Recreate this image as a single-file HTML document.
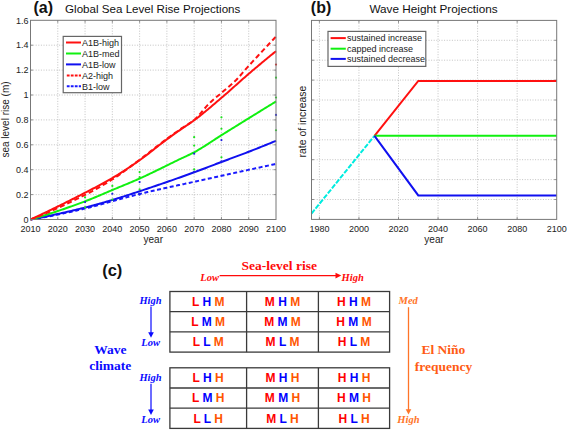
<!DOCTYPE html><html><head><meta charset="utf-8"><style>html,body{margin:0;padding:0;background:#fff;width:567px;height:430px;overflow:hidden}svg{display:block}</style></head><body>
<svg width="567" height="430" viewBox="0 0 567 430">
<rect width="567" height="430" fill="#fff"/>
<g stroke="#b4b4b4" stroke-width="0.8" stroke-dasharray="1,1.6"><line x1="57.78" y1="20.30" x2="57.78" y2="219.50"/><line x1="85.06" y1="20.30" x2="85.06" y2="219.50"/><line x1="112.33" y1="20.30" x2="112.33" y2="219.50"/><line x1="139.61" y1="20.30" x2="139.61" y2="219.50"/><line x1="166.89" y1="20.30" x2="166.89" y2="219.50"/><line x1="194.17" y1="20.30" x2="194.17" y2="219.50"/><line x1="221.44" y1="20.30" x2="221.44" y2="219.50"/><line x1="248.72" y1="20.30" x2="248.72" y2="219.50"/><line x1="30.50" y1="194.60" x2="276.00" y2="194.60"/><line x1="30.50" y1="169.70" x2="276.00" y2="169.70"/><line x1="30.50" y1="144.80" x2="276.00" y2="144.80"/><line x1="30.50" y1="119.90" x2="276.00" y2="119.90"/><line x1="30.50" y1="95.00" x2="276.00" y2="95.00"/><line x1="30.50" y1="70.10" x2="276.00" y2="70.10"/><line x1="30.50" y1="45.20" x2="276.00" y2="45.20"/></g>
<g stroke="#777" stroke-width="0.8"><line x1="57.78" y1="219.50" x2="57.78" y2="217.00"/><line x1="57.78" y1="20.30" x2="57.78" y2="22.80"/><line x1="85.06" y1="219.50" x2="85.06" y2="217.00"/><line x1="85.06" y1="20.30" x2="85.06" y2="22.80"/><line x1="112.33" y1="219.50" x2="112.33" y2="217.00"/><line x1="112.33" y1="20.30" x2="112.33" y2="22.80"/><line x1="139.61" y1="219.50" x2="139.61" y2="217.00"/><line x1="139.61" y1="20.30" x2="139.61" y2="22.80"/><line x1="166.89" y1="219.50" x2="166.89" y2="217.00"/><line x1="166.89" y1="20.30" x2="166.89" y2="22.80"/><line x1="194.17" y1="219.50" x2="194.17" y2="217.00"/><line x1="194.17" y1="20.30" x2="194.17" y2="22.80"/><line x1="221.44" y1="219.50" x2="221.44" y2="217.00"/><line x1="221.44" y1="20.30" x2="221.44" y2="22.80"/><line x1="248.72" y1="219.50" x2="248.72" y2="217.00"/><line x1="248.72" y1="20.30" x2="248.72" y2="22.80"/><line x1="30.50" y1="194.60" x2="33.00" y2="194.60"/><line x1="276.00" y1="194.60" x2="273.50" y2="194.60"/><line x1="30.50" y1="169.70" x2="33.00" y2="169.70"/><line x1="276.00" y1="169.70" x2="273.50" y2="169.70"/><line x1="30.50" y1="144.80" x2="33.00" y2="144.80"/><line x1="276.00" y1="144.80" x2="273.50" y2="144.80"/><line x1="30.50" y1="119.90" x2="33.00" y2="119.90"/><line x1="276.00" y1="119.90" x2="273.50" y2="119.90"/><line x1="30.50" y1="95.00" x2="33.00" y2="95.00"/><line x1="276.00" y1="95.00" x2="273.50" y2="95.00"/><line x1="30.50" y1="70.10" x2="33.00" y2="70.10"/><line x1="276.00" y1="70.10" x2="273.50" y2="70.10"/><line x1="30.50" y1="45.20" x2="33.00" y2="45.20"/><line x1="276.00" y1="45.20" x2="273.50" y2="45.20"/></g>
<g fill="none" stroke-width="2" stroke-linejoin="round">
<polyline points="30.50,219.50 31.86,219.29 33.23,219.07 34.59,218.85 35.96,218.62 37.32,218.39 38.68,218.16 40.05,217.92 41.41,217.69 42.77,217.44 44.14,217.20 45.50,216.95 46.87,216.69 48.23,216.44 49.59,216.18 50.96,215.91 52.32,215.65 53.69,215.38 55.05,215.11 56.41,214.84 57.78,214.56 59.14,214.28 60.51,214.00 61.87,213.71 63.23,213.42 64.60,213.14 65.96,212.84 67.32,212.55 68.69,212.25 70.05,211.95 71.42,211.65 72.78,211.35 74.14,211.05 75.51,210.74 76.87,210.43 78.24,210.12 79.60,209.81 80.96,209.49 82.33,209.18 83.69,208.86 85.06,208.54 86.42,208.22 87.78,207.89 89.15,207.55 90.51,207.20 91.88,206.84 93.24,206.48 94.60,206.11 95.97,205.74 97.33,205.36 98.69,204.98 100.06,204.60 101.42,204.22 102.79,203.84 104.15,203.45 105.51,203.07 106.88,202.69 108.24,202.31 109.61,201.94 110.97,201.57 112.33,201.20 113.70,200.83 115.06,200.47 116.42,200.10 117.79,199.73 119.15,199.36 120.52,198.99 121.88,198.62 123.24,198.25 124.61,197.88 125.97,197.51 127.34,197.15 128.70,196.78 130.06,196.42 131.43,196.06 132.79,195.70 134.16,195.35 135.52,195.00 136.88,194.65 138.25,194.31 139.61,193.98 140.98,193.65 142.34,193.32 143.70,192.99 145.07,192.66 146.43,192.34 147.79,192.02 149.16,191.70 150.52,191.39 151.89,191.07 153.25,190.76 154.61,190.45 155.98,190.14 157.34,189.83 158.71,189.53 160.07,189.22 161.43,188.92 162.80,188.62 164.16,188.31 165.53,188.01 166.89,187.72 168.25,187.42 169.62,187.12 170.98,186.82 172.34,186.53 173.71,186.23 175.07,185.93 176.44,185.64 177.80,185.34 179.16,185.05 180.53,184.75 181.89,184.46 183.26,184.16 184.62,183.87 185.98,183.57 187.35,183.27 188.71,182.97 190.08,182.68 191.44,182.38 192.80,182.08 194.17,181.78 195.53,181.48 196.89,181.17 198.26,180.87 199.62,180.57 200.99,180.27 202.35,179.98 203.71,179.68 205.08,179.38 206.44,179.08 207.81,178.78 209.17,178.48 210.53,178.19 211.90,177.89 213.26,177.59 214.62,177.29 215.99,176.99 217.35,176.70 218.72,176.40 220.08,176.10 221.44,175.80 222.81,175.50 224.17,175.20 225.54,174.90 226.90,174.61 228.26,174.31 229.63,174.01 230.99,173.71 232.36,173.41 233.72,173.11 235.08,172.81 236.45,172.51 237.81,172.21 239.17,171.92 240.54,171.62 241.90,171.32 243.27,171.02 244.63,170.72 245.99,170.42 247.36,170.12 248.72,169.82 250.09,169.53 251.45,169.23 252.81,168.93 254.18,168.63 255.54,168.33 256.91,168.03 258.27,167.73 259.63,167.43 261.00,167.14 262.36,166.84 263.73,166.54 265.09,166.24 266.45,165.94 267.82,165.64 269.18,165.34 270.54,165.04 271.91,164.74 273.27,164.45 274.64,164.15 276.00,163.85" stroke="#1a1aff" stroke-dasharray="4,2.5"/>
<polyline points="30.50,219.50 31.86,219.25 33.23,219.00 34.59,218.75 35.96,218.49 37.32,218.23 38.68,217.97 40.05,217.71 41.41,217.44 42.77,217.17 44.14,216.89 45.50,216.61 46.87,216.33 48.23,216.05 49.59,215.76 50.96,215.48 52.32,215.18 53.69,214.89 55.05,214.59 56.41,214.30 57.78,213.99 59.14,213.69 60.51,213.39 61.87,213.08 63.23,212.77 64.60,212.45 65.96,212.14 67.32,211.82 68.69,211.51 70.05,211.19 71.42,210.86 72.78,210.54 74.14,210.21 75.51,209.89 76.87,209.56 78.24,209.23 79.60,208.89 80.96,208.56 82.33,208.22 83.69,207.89 85.06,207.55 86.42,207.21 87.78,206.86 89.15,206.51 90.51,206.15 91.88,205.79 93.24,205.42 94.60,205.05 95.97,204.68 97.33,204.30 98.69,203.92 100.06,203.53 101.42,203.14 102.79,202.75 104.15,202.36 105.51,201.96 106.88,201.57 108.24,201.16 109.61,200.76 110.97,200.36 112.33,199.95 113.70,199.55 115.06,199.13 116.42,198.72 117.79,198.30 119.15,197.87 120.52,197.45 121.88,197.02 123.24,196.58 124.61,196.15 125.97,195.71 127.34,195.27 128.70,194.83 130.06,194.38 131.43,193.94 132.79,193.49 134.16,193.04 135.52,192.59 136.88,192.14 138.25,191.69 139.61,191.24 140.98,190.79 142.34,190.33 143.70,189.88 145.07,189.42 146.43,188.97 147.79,188.51 149.16,188.05 150.52,187.59 151.89,187.13 153.25,186.67 154.61,186.21 155.98,185.75 157.34,185.28 158.71,184.82 160.07,184.35 161.43,183.88 162.80,183.41 164.16,182.94 165.53,182.47 166.89,182.00 168.25,181.53 169.62,181.05 170.98,180.58 172.34,180.10 173.71,179.62 175.07,179.14 176.44,178.66 177.80,178.18 179.16,177.70 180.53,177.22 181.89,176.73 183.26,176.25 184.62,175.76 185.98,175.27 187.35,174.78 188.71,174.29 190.08,173.80 191.44,173.30 192.80,172.81 194.17,172.31 195.53,171.82 196.89,171.31 198.26,170.81 199.62,170.30 200.99,169.79 202.35,169.27 203.71,168.75 205.08,168.23 206.44,167.71 207.81,167.19 209.17,166.67 210.53,166.14 211.90,165.62 213.26,165.10 214.62,164.57 215.99,164.05 217.35,163.53 218.72,163.01 220.08,162.50 221.44,161.98 222.81,161.47 224.17,160.96 225.54,160.45 226.90,159.94 228.26,159.44 229.63,158.93 230.99,158.43 232.36,157.92 233.72,157.42 235.08,156.91 236.45,156.41 237.81,155.90 239.17,155.39 240.54,154.88 241.90,154.37 243.27,153.86 244.63,153.34 245.99,152.82 247.36,152.30 248.72,151.77 250.09,151.24 251.45,150.71 252.81,150.18 254.18,149.64 255.54,149.10 256.91,148.57 258.27,148.02 259.63,147.48 261.00,146.94 262.36,146.39 263.73,145.84 265.09,145.29 266.45,144.74 267.82,144.18 269.18,143.63 270.54,143.07 271.91,142.51 273.27,141.95 274.64,141.38 276.00,140.82" stroke="#1010f0"/>
<polyline points="30.50,219.50 31.86,219.12 33.23,218.73 34.59,218.34 35.96,217.94 37.32,217.54 38.68,217.14 40.05,216.73 41.41,216.32 42.77,215.90 44.14,215.48 45.50,215.06 46.87,214.63 48.23,214.19 49.59,213.76 50.96,213.32 52.32,212.87 53.69,212.43 55.05,211.98 56.41,211.52 57.78,211.07 59.14,210.60 60.51,210.14 61.87,209.67 63.23,209.20 64.60,208.73 65.96,208.25 67.32,207.78 68.69,207.29 70.05,206.81 71.42,206.32 72.78,205.83 74.14,205.34 75.51,204.85 76.87,204.35 78.24,203.85 79.60,203.35 80.96,202.85 82.33,202.34 83.69,201.83 85.06,201.32 86.42,200.81 87.78,200.28 89.15,199.75 90.51,199.20 91.88,198.65 93.24,198.09 94.60,197.53 95.97,196.96 97.33,196.38 98.69,195.81 100.06,195.22 101.42,194.64 102.79,194.06 104.15,193.47 105.51,192.89 106.88,192.30 108.24,191.72 109.61,191.14 110.97,190.57 112.33,189.99 113.70,189.43 115.06,188.86 116.42,188.30 117.79,187.73 119.15,187.17 120.52,186.61 121.88,186.05 123.24,185.49 124.61,184.93 125.97,184.37 127.34,183.80 128.70,183.23 130.06,182.66 131.43,182.09 132.79,181.51 134.16,180.93 135.52,180.34 136.88,179.75 138.25,179.15 139.61,178.54 140.98,177.93 142.34,177.31 143.70,176.68 145.07,176.05 146.43,175.41 147.79,174.77 149.16,174.12 150.52,173.47 151.89,172.82 153.25,172.16 154.61,171.50 155.98,170.84 157.34,170.17 158.71,169.50 160.07,168.83 161.43,168.16 162.80,167.49 164.16,166.81 165.53,166.14 166.89,165.46 168.25,164.79 169.62,164.12 170.98,163.45 172.34,162.78 173.71,162.11 175.07,161.45 176.44,160.79 177.80,160.13 179.16,159.47 180.53,158.83 181.89,158.20 183.26,157.57 184.62,156.94 185.98,156.30 187.35,155.67 188.71,155.02 190.08,154.36 191.44,153.69 192.80,152.99 194.17,152.27 195.53,151.53 196.89,150.76 198.26,149.97 199.62,149.17 200.99,148.34 202.35,147.50 203.71,146.65 205.08,145.79 206.44,144.92 207.81,144.04 209.17,143.15 210.53,142.26 211.90,141.37 213.26,140.47 214.62,139.58 215.99,138.69 217.35,137.81 218.72,136.94 220.08,136.07 221.44,135.21 222.81,134.36 224.17,133.51 225.54,132.67 226.90,131.82 228.26,130.97 229.63,130.12 230.99,129.27 232.36,128.43 233.72,127.58 235.08,126.73 236.45,125.89 237.81,125.04 239.17,124.19 240.54,123.35 241.90,122.50 243.27,121.66 244.63,120.81 245.99,119.97 247.36,119.13 248.72,118.28 250.09,117.44 251.45,116.60 252.81,115.75 254.18,114.91 255.54,114.07 256.91,113.23 258.27,112.38 259.63,111.54 261.00,110.70 262.36,109.86 263.73,109.02 265.09,108.18 266.45,107.34 267.82,106.50 269.18,105.66 270.54,104.83 271.91,103.99 273.27,103.15 274.64,102.31 276.00,101.47" stroke="#10f010"/>
<polyline points="30.50,219.50 31.86,218.98 33.23,218.46 34.59,217.93 35.96,217.40 37.32,216.86 38.68,216.31 40.05,215.76 41.41,215.20 42.77,214.64 44.14,214.07 45.50,213.49 46.87,212.91 48.23,212.32 49.59,211.73 50.96,211.14 52.32,210.54 53.69,209.93 55.05,209.32 56.41,208.70 57.78,208.08 59.14,207.46 60.51,206.83 61.87,206.19 63.23,205.56 64.60,204.91 65.96,204.27 67.32,203.62 68.69,202.96 70.05,202.31 71.42,201.64 72.78,200.98 74.14,200.31 75.51,199.64 76.87,198.96 78.24,198.28 79.60,197.60 80.96,196.92 82.33,196.23 83.69,195.54 85.06,194.85 86.42,194.15 87.78,193.45 89.15,192.74 90.51,192.02 91.88,191.30 93.24,190.56 94.60,189.82 95.97,189.08 97.33,188.32 98.69,187.56 100.06,186.78 101.42,186.00 102.79,185.21 104.15,184.41 105.51,183.61 106.88,182.79 108.24,181.96 109.61,181.12 110.97,180.27 112.33,179.41 113.70,178.54 115.06,177.64 116.42,176.73 117.79,175.80 119.15,174.86 120.52,173.90 121.88,172.92 123.24,171.94 124.61,170.95 125.97,169.95 127.34,168.94 128.70,167.92 130.06,166.90 131.43,165.88 132.79,164.85 134.16,163.83 135.52,162.80 136.88,161.78 138.25,160.76 139.61,159.74 140.98,158.72 142.34,157.69 143.70,156.66 145.07,155.61 146.43,154.56 147.79,153.51 149.16,152.45 150.52,151.38 151.89,150.32 153.25,149.26 154.61,148.19 155.98,147.13 157.34,146.07 158.71,145.01 160.07,143.96 161.43,142.92 162.80,141.88 164.16,140.85 165.53,139.83 166.89,138.82 168.25,137.82 169.62,136.83 170.98,135.85 172.34,134.87 173.71,133.90 175.07,132.93 176.44,131.97 177.80,131.01 179.16,130.06 180.53,129.11 181.89,128.19 183.26,127.31 184.62,126.44 185.98,125.59 187.35,124.74 188.71,123.86 190.08,122.95 191.44,122.00 192.80,120.99 194.17,119.90 195.53,118.70 196.89,117.37 198.26,115.93 199.62,114.42 200.99,112.84 202.35,111.23 203.71,109.62 205.08,108.01 206.44,106.45 207.81,104.94 209.17,103.52 210.53,102.20 211.90,100.96 213.26,99.75 214.62,98.59 215.99,97.44 217.35,96.31 218.72,95.19 220.08,94.05 221.44,92.88 222.81,91.72 224.17,90.57 225.54,89.44 226.90,88.30 228.26,87.16 229.63,86.00 230.99,84.82 232.36,83.61 233.72,82.36 235.08,81.06 236.45,79.69 237.81,78.25 239.17,76.76 240.54,75.23 241.90,73.67 243.27,72.09 244.63,70.51 245.99,68.93 247.36,67.38 248.72,65.87 250.09,64.37 251.45,62.88 252.81,61.40 254.18,59.91 255.54,58.43 256.91,56.95 258.27,55.48 259.63,54.00 261.00,52.53 262.36,51.07 263.73,49.61 265.09,48.15 266.45,46.69 267.82,45.24 269.18,43.79 270.54,42.35 271.91,40.91 273.27,39.47 274.64,38.04 276.00,36.61" stroke="#ff1010" stroke-dasharray="5,3"/>
<polyline points="30.50,219.50 31.86,218.87 33.23,218.24 34.59,217.61 35.96,216.98 37.32,216.34 38.68,215.70 40.05,215.06 41.41,214.41 42.77,213.77 44.14,213.12 45.50,212.47 46.87,211.81 48.23,211.16 49.59,210.50 50.96,209.84 52.32,209.18 53.69,208.51 55.05,207.85 56.41,207.18 57.78,206.51 59.14,205.84 60.51,205.16 61.87,204.49 63.23,203.81 64.60,203.13 65.96,202.45 67.32,201.76 68.69,201.08 70.05,200.39 71.42,199.70 72.78,199.01 74.14,198.32 75.51,197.63 76.87,196.93 78.24,196.24 79.60,195.54 80.96,194.84 82.33,194.14 83.69,193.44 85.06,192.73 86.42,192.03 87.78,191.33 89.15,190.62 90.51,189.92 91.88,189.21 93.24,188.50 94.60,187.79 95.97,187.08 97.33,186.36 98.69,185.64 100.06,184.91 101.42,184.18 102.79,183.44 104.15,182.69 105.51,181.94 106.88,181.18 108.24,180.41 109.61,179.63 110.97,178.84 112.33,178.04 113.70,177.23 115.06,176.41 116.42,175.58 117.79,174.74 119.15,173.90 120.52,173.04 121.88,172.18 123.24,171.30 124.61,170.42 125.97,169.53 127.34,168.63 128.70,167.73 130.06,166.82 131.43,165.90 132.79,164.97 134.16,164.04 135.52,163.10 136.88,162.15 138.25,161.20 139.61,160.24 140.98,159.27 142.34,158.27 143.70,157.27 145.07,156.24 146.43,155.21 147.79,154.16 149.16,153.10 150.52,152.03 151.89,150.96 153.25,149.88 154.61,148.80 155.98,147.73 157.34,146.65 158.71,145.58 160.07,144.51 161.43,143.45 162.80,142.40 164.16,141.36 165.53,140.33 166.89,139.32 168.25,138.32 169.62,137.33 170.98,136.35 172.34,135.37 173.71,134.40 175.07,133.44 176.44,132.48 177.80,131.52 179.16,130.56 180.53,129.61 181.89,128.67 183.26,127.74 184.62,126.83 185.98,125.92 187.35,125.01 188.71,124.10 190.08,123.17 191.44,122.23 192.80,121.27 194.17,120.27 195.53,119.26 196.89,118.22 198.26,117.17 199.62,116.10 200.99,115.02 202.35,113.93 203.71,112.82 205.08,111.71 206.44,110.58 207.81,109.45 209.17,108.30 210.53,107.16 211.90,106.00 213.26,104.84 214.62,103.68 215.99,102.52 217.35,101.35 218.72,100.19 220.08,99.02 221.44,97.86 222.81,96.70 224.17,95.52 225.54,94.34 226.90,93.14 228.26,91.94 229.63,90.73 230.99,89.52 232.36,88.31 233.72,87.09 235.08,85.87 236.45,84.65 237.81,83.43 239.17,82.21 240.54,80.99 241.90,79.78 243.27,78.58 244.63,77.38 245.99,76.19 247.36,75.01 248.72,73.84 250.09,72.67 251.45,71.51 252.81,70.35 254.18,69.20 255.54,68.04 256.91,66.90 258.27,65.75 259.63,64.61 261.00,63.47 262.36,62.34 263.73,61.21 265.09,60.08 266.45,58.95 267.82,57.83 269.18,56.71 270.54,55.60 271.91,54.49 273.27,53.38 274.64,52.28 276.00,51.18" stroke="#ff1010"/>
</g>
<circle cx="85.06" cy="197.46" r="1.1" fill="#20e020"/><circle cx="85.06" cy="202.07" r="1.1" fill="#2020e0"/><circle cx="85.06" cy="207.42" r="1.1" fill="#20e020"/><circle cx="112.33" cy="185.88" r="1.1" fill="#20e020"/><circle cx="112.33" cy="189.87" r="1.1" fill="#20e020"/><circle cx="112.33" cy="193.73" r="1.1" fill="#2020e0"/><circle cx="112.33" cy="199.58" r="1.1" fill="#20e020"/><circle cx="139.61" cy="172.07" r="1.1" fill="#20e020"/><circle cx="139.61" cy="177.17" r="1.1" fill="#20e020"/><circle cx="139.61" cy="182.03" r="1.1" fill="#2020e0"/><circle cx="139.61" cy="189.37" r="1.1" fill="#20e020"/><circle cx="139.61" cy="194.60" r="1.1" fill="#2020e0"/><circle cx="194.17" cy="137.21" r="1.1" fill="#20e020"/><circle cx="194.17" cy="145.55" r="1.1" fill="#20e020"/><circle cx="194.17" cy="153.64" r="1.1" fill="#2020e0"/><circle cx="194.17" cy="169.45" r="1.1" fill="#20e020"/><circle cx="194.17" cy="171.94" r="1.1" fill="#2020e0"/><circle cx="221.44" cy="117.29" r="1.1" fill="#20e020"/><circle cx="221.44" cy="128.74" r="1.1" fill="#20e020"/><circle cx="221.44" cy="140.07" r="1.1" fill="#2020e0"/><circle cx="221.44" cy="157.25" r="1.1" fill="#20e020"/><circle cx="221.44" cy="161.36" r="1.1" fill="#2020e0"/><circle cx="276.00" cy="64.62" r="1.1" fill="#e02020"/><circle cx="276.00" cy="77.69" r="1.1" fill="#20e020"/><circle cx="276.00" cy="97.49" r="1.1" fill="#20e020"/><circle cx="276.00" cy="114.92" r="1.1" fill="#2020e0"/><circle cx="276.00" cy="130.23" r="1.1" fill="#20e020"/>
<rect x="30.50" y="20.30" width="245.50" height="199.20" fill="none" stroke="#777" stroke-width="1"/>
<g font-family="Liberation Sans, sans-serif" font-size="9" fill="#222"><text x="30.50" y="232.3" text-anchor="middle">2010</text><text x="57.78" y="232.3" text-anchor="middle">2020</text><text x="85.06" y="232.3" text-anchor="middle">2030</text><text x="112.33" y="232.3" text-anchor="middle">2040</text><text x="139.61" y="232.3" text-anchor="middle">2050</text><text x="166.89" y="232.3" text-anchor="middle">2060</text><text x="194.17" y="232.3" text-anchor="middle">2070</text><text x="221.44" y="232.3" text-anchor="middle">2080</text><text x="248.72" y="232.3" text-anchor="middle">2090</text><text x="276.00" y="232.3" text-anchor="middle">2100</text><text x="28.5" y="222.70" text-anchor="end">0</text><text x="28.5" y="197.80" text-anchor="end">0.2</text><text x="28.5" y="172.90" text-anchor="end">0.4</text><text x="28.5" y="148.00" text-anchor="end">0.6</text><text x="28.5" y="123.10" text-anchor="end">0.8</text><text x="28.5" y="98.20" text-anchor="end">1</text><text x="28.5" y="73.30" text-anchor="end">1.2</text><text x="28.5" y="48.40" text-anchor="end">1.4</text><text x="28.5" y="23.50" text-anchor="end">1.6</text></g>
<text x="153.25" y="242.8" text-anchor="middle" font-family="Liberation Sans, sans-serif" font-size="10" fill="#222">year</text>
<text transform="translate(9.2,119.5) rotate(-90)" text-anchor="middle" font-family="Liberation Sans, sans-serif" font-size="10" fill="#222">sea level rise (m)</text>
<text x="152.7" y="12.9" text-anchor="middle" font-family="Liberation Sans, sans-serif" font-size="11.6" fill="#111">Global Sea Level Rise Projections</text>
<text x="33.5" y="13" font-family="Liberation Sans, sans-serif" font-size="16" font-weight="bold" fill="#111">(a)</text>
<rect x="63.2" y="36.4" width="58.3" height="56.3" fill="#fff" stroke="#666" stroke-width="1.2"/>
<line x1="66" y1="42.5" x2="81" y2="42.5" stroke="#ff1010" stroke-width="2"/>
<text x="82" y="45.7" font-family="Liberation Sans, sans-serif" font-size="9" fill="#222">A1B-high</text>
<line x1="66" y1="53.5" x2="81" y2="53.5" stroke="#10f010" stroke-width="2"/>
<text x="82" y="56.7" font-family="Liberation Sans, sans-serif" font-size="9" fill="#222">A1B-med</text>
<line x1="66" y1="64.4" x2="81" y2="64.4" stroke="#1010f0" stroke-width="2"/>
<text x="82" y="67.6" font-family="Liberation Sans, sans-serif" font-size="9" fill="#222">A1B-low</text>
<line x1="66.8" y1="75.4" x2="81" y2="75.4" stroke="#ff1010" stroke-width="2" stroke-dasharray="2.8,1.2"/>
<text x="82" y="78.6" font-family="Liberation Sans, sans-serif" font-size="9" fill="#222">A2-high</text>
<line x1="66.8" y1="86.3" x2="81" y2="86.3" stroke="#1a1aff" stroke-width="2" stroke-dasharray="2.8,1.2"/>
<text x="82" y="89.5" font-family="Liberation Sans, sans-serif" font-size="9" fill="#222">B1-low</text>
<g stroke="#b4b4b4" stroke-width="0.8" stroke-dasharray="1,1.6"><line x1="319.40" y1="20.40" x2="319.40" y2="219.40"/><line x1="358.95" y1="20.40" x2="358.95" y2="219.40"/><line x1="398.50" y1="20.40" x2="398.50" y2="219.40"/><line x1="438.05" y1="20.40" x2="438.05" y2="219.40"/><line x1="477.60" y1="20.40" x2="477.60" y2="219.40"/><line x1="517.15" y1="20.40" x2="517.15" y2="219.40"/><line x1="311.50" y1="40.30" x2="556.70" y2="40.30"/><line x1="311.50" y1="60.20" x2="556.70" y2="60.20"/><line x1="311.50" y1="80.10" x2="556.70" y2="80.10"/><line x1="311.50" y1="100.00" x2="556.70" y2="100.00"/><line x1="311.50" y1="119.90" x2="556.70" y2="119.90"/><line x1="311.50" y1="139.80" x2="556.70" y2="139.80"/><line x1="311.50" y1="159.70" x2="556.70" y2="159.70"/><line x1="311.50" y1="179.60" x2="556.70" y2="179.60"/><line x1="311.50" y1="199.50" x2="556.70" y2="199.50"/></g>
<g stroke="#777" stroke-width="0.8"><line x1="319.40" y1="219.40" x2="319.40" y2="216.90"/><line x1="319.40" y1="20.40" x2="319.40" y2="22.90"/><line x1="358.95" y1="219.40" x2="358.95" y2="216.90"/><line x1="358.95" y1="20.40" x2="358.95" y2="22.90"/><line x1="398.50" y1="219.40" x2="398.50" y2="216.90"/><line x1="398.50" y1="20.40" x2="398.50" y2="22.90"/><line x1="438.05" y1="219.40" x2="438.05" y2="216.90"/><line x1="438.05" y1="20.40" x2="438.05" y2="22.90"/><line x1="477.60" y1="219.40" x2="477.60" y2="216.90"/><line x1="477.60" y1="20.40" x2="477.60" y2="22.90"/><line x1="517.15" y1="219.40" x2="517.15" y2="216.90"/><line x1="517.15" y1="20.40" x2="517.15" y2="22.90"/><line x1="311.50" y1="40.30" x2="314.00" y2="40.30"/><line x1="556.70" y1="40.30" x2="554.20" y2="40.30"/><line x1="311.50" y1="60.20" x2="314.00" y2="60.20"/><line x1="556.70" y1="60.20" x2="554.20" y2="60.20"/><line x1="311.50" y1="80.10" x2="314.00" y2="80.10"/><line x1="556.70" y1="80.10" x2="554.20" y2="80.10"/><line x1="311.50" y1="100.00" x2="314.00" y2="100.00"/><line x1="556.70" y1="100.00" x2="554.20" y2="100.00"/><line x1="311.50" y1="119.90" x2="314.00" y2="119.90"/><line x1="556.70" y1="119.90" x2="554.20" y2="119.90"/><line x1="311.50" y1="139.80" x2="314.00" y2="139.80"/><line x1="556.70" y1="139.80" x2="554.20" y2="139.80"/><line x1="311.50" y1="159.70" x2="314.00" y2="159.70"/><line x1="556.70" y1="159.70" x2="554.20" y2="159.70"/><line x1="311.50" y1="179.60" x2="314.00" y2="179.60"/><line x1="556.70" y1="179.60" x2="554.20" y2="179.60"/><line x1="311.50" y1="199.50" x2="314.00" y2="199.50"/><line x1="556.70" y1="199.50" x2="554.20" y2="199.50"/></g>
<g fill="none" stroke-width="2">
<line x1="311.50" y1="213.6" x2="374.50" y2="135.80" stroke="#00ecdf" stroke-dasharray="5,1.5"/>
<polyline points="374.50,135.80 418.27,81.0 556.70,81.0" stroke="#ff1010"/>
<polyline points="374.50,135.80 556.70,135.80" stroke="#10f010"/>
<polyline points="374.50,135.80 418.27,195.4 556.70,195.4" stroke="#1010f0"/>
</g>
<rect x="311.50" y="20.40" width="245.20" height="199.00" fill="none" stroke="#777" stroke-width="1"/>
<g font-family="Liberation Sans, sans-serif" font-size="9" fill="#222"><text x="319.40" y="232.3" text-anchor="middle">1980</text><text x="358.95" y="232.3" text-anchor="middle">2000</text><text x="398.50" y="232.3" text-anchor="middle">2020</text><text x="438.05" y="232.3" text-anchor="middle">2040</text><text x="477.60" y="232.3" text-anchor="middle">2060</text><text x="517.15" y="232.3" text-anchor="middle">2080</text><text x="556.70" y="232.3" text-anchor="middle">2100</text></g>
<text x="434.10" y="242.8" text-anchor="middle" font-family="Liberation Sans, sans-serif" font-size="10" fill="#222">year</text>
<text transform="translate(305.6,121.6) rotate(-90)" text-anchor="middle" font-family="Liberation Sans, sans-serif" font-size="10.4" fill="#222">rate of increase</text>
<text x="433.5" y="12.9" text-anchor="middle" font-family="Liberation Sans, sans-serif" font-size="11.75" fill="#111">Wave Height Projections</text>
<text x="310.8" y="13" font-family="Liberation Sans, sans-serif" font-size="16" font-weight="bold" fill="#111">(b)</text>
<rect x="328" y="31.4" width="97.8" height="35" fill="#fff" stroke="#666" stroke-width="1.2"/>
<line x1="330.6" y1="38.1" x2="345.8" y2="38.1" stroke="#ff1010" stroke-width="2"/>
<text x="347" y="41.3" font-family="Liberation Sans, sans-serif" font-size="9" fill="#222">sustained increase</text>
<line x1="330.6" y1="48.7" x2="345.8" y2="48.7" stroke="#10f010" stroke-width="2"/>
<text x="347" y="51.9" font-family="Liberation Sans, sans-serif" font-size="9" fill="#222">capped increase</text>
<line x1="330.6" y1="58.9" x2="345.8" y2="58.9" stroke="#1010f0" stroke-width="2"/>
<text x="347" y="62.1" font-family="Liberation Sans, sans-serif" font-size="9" fill="#222">sustained decrease</text>
<text x="102.2" y="275.8" font-family="Liberation Sans, sans-serif" font-size="16.5" font-weight="bold" fill="#111">(c)</text>
<text x="279.3" y="270.1" text-anchor="middle" font-family="Liberation Serif, serif" font-size="13.5" font-weight="bold" fill="#ff0a0a">Sea-level rise</text>
<text x="200.3" y="281" font-family="Liberation Serif, serif" font-size="10.5" font-weight="bold" font-style="italic" fill="#ff0a0a">Low</text>
<text x="341.6" y="281" font-family="Liberation Serif, serif" font-size="10.5" font-weight="bold" font-style="italic" fill="#ff0a0a">High</text>
<line x1="219.6" y1="275.6" x2="337" y2="275.6" stroke="#ff0a0a" stroke-width="1.2"/>
<polygon points="341.3,275.6 335.5,272.8 335.5,278.4" fill="#ff0a0a"/>
<text x="150.5" y="303.9" text-anchor="middle" font-family="Liberation Serif, serif" font-size="10.5" font-weight="bold" font-style="italic" fill="#0a0aff">High</text>
<text x="150.7" y="345.9" text-anchor="middle" font-family="Liberation Serif, serif" font-size="10.5" font-weight="bold" font-style="italic" fill="#0a0aff">Low</text>
<line x1="151" y1="306.6" x2="151" y2="333.8" stroke="#0a0aff" stroke-width="1.2"/>
<polygon points="151,337.8 148.2,332.3 153.8,332.3" fill="#0a0aff"/>
<text x="150.5" y="380.7" text-anchor="middle" font-family="Liberation Serif, serif" font-size="10.5" font-weight="bold" font-style="italic" fill="#0a0aff">High</text>
<text x="150.7" y="423.2" text-anchor="middle" font-family="Liberation Serif, serif" font-size="10.5" font-weight="bold" font-style="italic" fill="#0a0aff">Low</text>
<line x1="151" y1="383.8" x2="151" y2="411.0" stroke="#0a0aff" stroke-width="1.2"/>
<polygon points="151,415.0 148.2,409.5 153.8,409.5" fill="#0a0aff"/>
<text x="110.3" y="353.8" text-anchor="middle" font-family="Liberation Serif, serif" font-size="13.5" font-weight="bold" fill="#0a0aff">Wave</text>
<text x="110.3" y="369.7" text-anchor="middle" font-family="Liberation Serif, serif" font-size="13.5" font-weight="bold" fill="#0a0aff">climate</text>
<text x="408.2" y="304.2" text-anchor="middle" font-family="Liberation Serif, serif" font-size="10.5" font-weight="bold" font-style="italic" fill="#ff7428">Med</text>
<text x="408.4" y="422.8" text-anchor="middle" font-family="Liberation Serif, serif" font-size="10.5" font-weight="bold" font-style="italic" fill="#ff7428">High</text>
<line x1="408.5" y1="307.2" x2="408.5" y2="410" stroke="#ff7428" stroke-width="1.3"/>
<polygon points="408.5,414.6 405.7,409.2 411.3,409.2" fill="#ff7428"/>
<text x="443.4" y="353.8" text-anchor="middle" font-family="Liberation Serif, serif" font-size="13.5" font-weight="bold" fill="#ff5c14">El Niño</text>
<text x="443.4" y="370.5" text-anchor="middle" font-family="Liberation Serif, serif" font-size="13.5" font-weight="bold" fill="#ff5c14">frequency</text>
<g stroke="#3a3a3a" stroke-width="1.3" fill="none"><rect x="169.9" y="291.5" width="219.7" height="60.6"/><line x1="169.9" y1="311.7" x2="389.6" y2="311.7"/><line x1="246.6" y1="291.5" x2="246.6" y2="352.1"/><line x1="169.9" y1="331.9" x2="389.6" y2="331.9"/><line x1="318.4" y1="291.5" x2="318.4" y2="352.1"/></g><text x="208.2" y="305.9" text-anchor="middle" font-family="Liberation Sans, sans-serif" font-size="12" font-weight="bold" xml:space="preserve"><tspan fill="#ff0000">L</tspan> <tspan fill="#0000ff">H</tspan> <tspan fill="#ff5500">M</tspan></text><text x="282.5" y="305.9" text-anchor="middle" font-family="Liberation Sans, sans-serif" font-size="12" font-weight="bold" xml:space="preserve"><tspan fill="#ff0000">M</tspan> <tspan fill="#0000ff">H</tspan> <tspan fill="#ff5500">M</tspan></text><text x="354.0" y="305.9" text-anchor="middle" font-family="Liberation Sans, sans-serif" font-size="12" font-weight="bold" xml:space="preserve"><tspan fill="#ff0000">H</tspan> <tspan fill="#0000ff">H</tspan> <tspan fill="#ff5500">M</tspan></text><text x="208.2" y="326.1" text-anchor="middle" font-family="Liberation Sans, sans-serif" font-size="12" font-weight="bold" xml:space="preserve"><tspan fill="#ff0000">L</tspan> <tspan fill="#0000ff">M</tspan> <tspan fill="#ff5500">M</tspan></text><text x="282.5" y="326.1" text-anchor="middle" font-family="Liberation Sans, sans-serif" font-size="12" font-weight="bold" xml:space="preserve"><tspan fill="#ff0000">M</tspan> <tspan fill="#0000ff">M</tspan> <tspan fill="#ff5500">M</tspan></text><text x="354.0" y="326.1" text-anchor="middle" font-family="Liberation Sans, sans-serif" font-size="12" font-weight="bold" xml:space="preserve"><tspan fill="#ff0000">H</tspan> <tspan fill="#0000ff">M</tspan> <tspan fill="#ff5500">M</tspan></text><text x="208.2" y="346.3" text-anchor="middle" font-family="Liberation Sans, sans-serif" font-size="12" font-weight="bold" xml:space="preserve"><tspan fill="#ff0000">L</tspan> <tspan fill="#0000ff">L</tspan> <tspan fill="#ff5500">M</tspan></text><text x="282.5" y="346.3" text-anchor="middle" font-family="Liberation Sans, sans-serif" font-size="12" font-weight="bold" xml:space="preserve"><tspan fill="#ff0000">M</tspan> <tspan fill="#0000ff">L</tspan> <tspan fill="#ff5500">M</tspan></text><text x="354.0" y="346.3" text-anchor="middle" font-family="Liberation Sans, sans-serif" font-size="12" font-weight="bold" xml:space="preserve"><tspan fill="#ff0000">H</tspan> <tspan fill="#0000ff">L</tspan> <tspan fill="#ff5500">M</tspan></text>
<g stroke="#3a3a3a" stroke-width="1.3" fill="none"><rect x="169.9" y="367.8" width="219.7" height="60.6"/><line x1="169.9" y1="388.0" x2="389.6" y2="388.0"/><line x1="246.6" y1="367.8" x2="246.6" y2="428.4"/><line x1="169.9" y1="408.2" x2="389.6" y2="408.2"/><line x1="318.4" y1="367.8" x2="318.4" y2="428.4"/></g><text x="208.2" y="382.2" text-anchor="middle" font-family="Liberation Sans, sans-serif" font-size="12" font-weight="bold" xml:space="preserve"><tspan fill="#ff0000">L</tspan> <tspan fill="#0000ff">H</tspan> <tspan fill="#ff5500">H</tspan></text><text x="282.5" y="382.2" text-anchor="middle" font-family="Liberation Sans, sans-serif" font-size="12" font-weight="bold" xml:space="preserve"><tspan fill="#ff0000">M</tspan> <tspan fill="#0000ff">H</tspan> <tspan fill="#ff5500">H</tspan></text><text x="354.0" y="382.2" text-anchor="middle" font-family="Liberation Sans, sans-serif" font-size="12" font-weight="bold" xml:space="preserve"><tspan fill="#ff0000">H</tspan> <tspan fill="#0000ff">H</tspan> <tspan fill="#ff5500">H</tspan></text><text x="208.2" y="402.4" text-anchor="middle" font-family="Liberation Sans, sans-serif" font-size="12" font-weight="bold" xml:space="preserve"><tspan fill="#ff0000">L</tspan> <tspan fill="#0000ff">M</tspan> <tspan fill="#ff5500">H</tspan></text><text x="282.5" y="402.4" text-anchor="middle" font-family="Liberation Sans, sans-serif" font-size="12" font-weight="bold" xml:space="preserve"><tspan fill="#ff0000">M</tspan> <tspan fill="#0000ff">M</tspan> <tspan fill="#ff5500">H</tspan></text><text x="354.0" y="402.4" text-anchor="middle" font-family="Liberation Sans, sans-serif" font-size="12" font-weight="bold" xml:space="preserve"><tspan fill="#ff0000">H</tspan> <tspan fill="#0000ff">M</tspan> <tspan fill="#ff5500">H</tspan></text><text x="208.2" y="422.6" text-anchor="middle" font-family="Liberation Sans, sans-serif" font-size="12" font-weight="bold" xml:space="preserve"><tspan fill="#ff0000">L</tspan> <tspan fill="#0000ff">L</tspan> <tspan fill="#ff5500">H</tspan></text><text x="282.5" y="422.6" text-anchor="middle" font-family="Liberation Sans, sans-serif" font-size="12" font-weight="bold" xml:space="preserve"><tspan fill="#ff0000">M</tspan> <tspan fill="#0000ff">L</tspan> <tspan fill="#ff5500">H</tspan></text><text x="354.0" y="422.6" text-anchor="middle" font-family="Liberation Sans, sans-serif" font-size="12" font-weight="bold" xml:space="preserve"><tspan fill="#ff0000">H</tspan> <tspan fill="#0000ff">L</tspan> <tspan fill="#ff5500">H</tspan></text>
</svg></body></html>
